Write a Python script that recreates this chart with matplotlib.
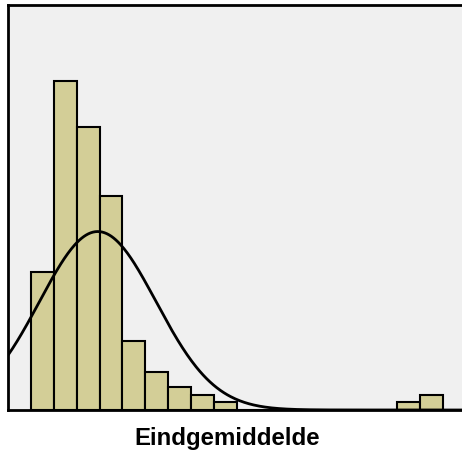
import numpy as np
import matplotlib.pyplot as plt

# histogram counts per bin (18 equal bins) and fitted normal curve
counts = [18, 43, 37, 28, 9, 5, 3, 2, 1, 0, 0, 0, 0, 0, 0, 0, 1, 2]
edges = np.arange(len(counts) + 1)
mean = 2.92
sd = 2.55

n = sum(counts)
width = 1

fig = plt.figure(figsize=(4.62, 4.52), dpi=100)
ax = fig.add_axes([0.0173, 0.0907, 0.9827, 0.896])
ax.set_facecolor("#f0f0f0")

ax.bar(edges[:-1], counts, width=width, align="edge",
       color="#d3ce97", edgecolor="black", linewidth=1.5, zorder=2)

x = np.linspace(-1.0, 19, 400)
y = n * width / (sd * np.sqrt(2 * np.pi)) * np.exp(-0.5 * ((x - mean) / sd) ** 2)
ax.plot(x, y, color="black", linewidth=2.0, zorder=3)

ax.set_xlim(-1.0, 18.83)
ax.set_ylim(0, 52.9)
ax.set_xticks([])
ax.set_yticks([])
for s in ax.spines.values():
    s.set_linewidth(2)
ax.spines["right"].set_visible(False)

ax.set_xlabel("Eindgemiddelde", fontsize=17.3, fontweight="bold",
              family=["Liberation Sans", "DejaVu Sans"])
ax.xaxis.set_label_coords(219 / 454, -0.04)
ax.xaxis.label.set_va("top")

fig.savefig("out.png", dpi=100)
